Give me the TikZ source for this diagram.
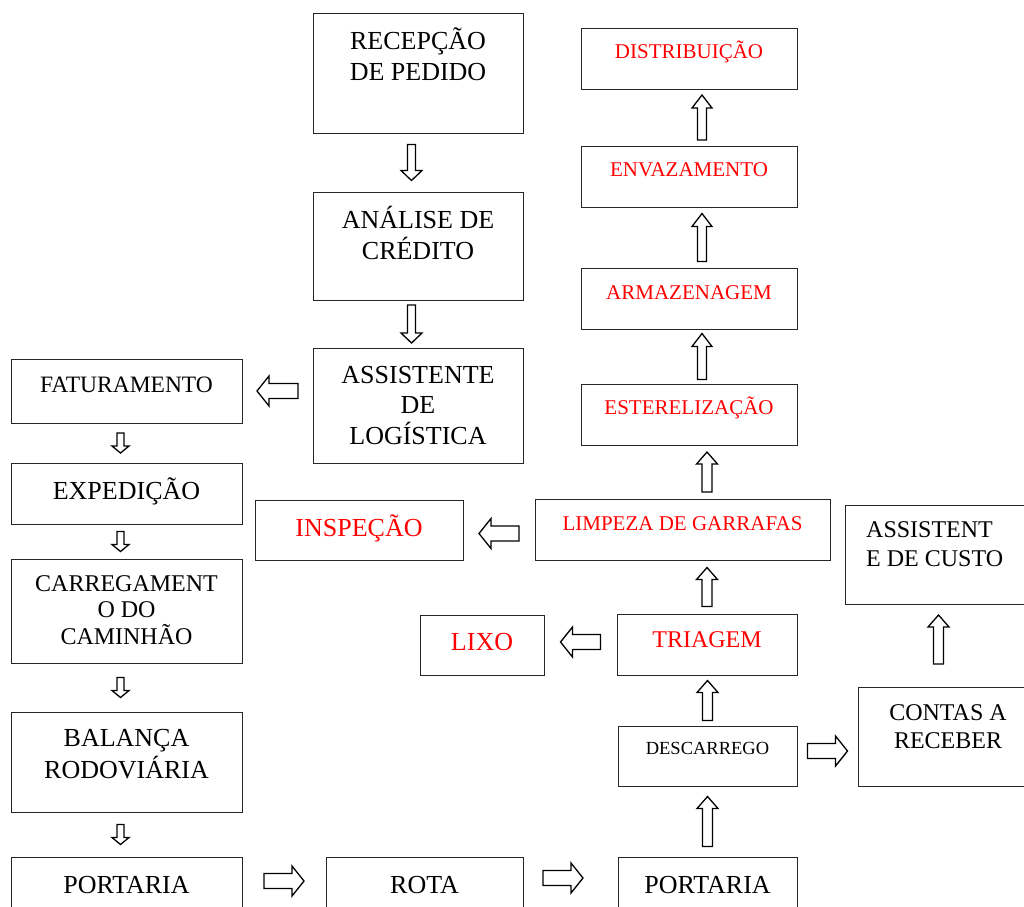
\documentclass[tikz,border=0pt]{standalone}
\usepackage{fontspec}
\setmainfont{Liberation Serif}
\usetikzlibrary{calc}

\definecolor{flowred}{RGB}{255,0,0}

% hollow block arrows: [style]{from}{to}{length}, centred between the two ends
\newcommand{\vflow}[4][]{%
    \draw[flow_arr, #1] let \p1=(#2), \p2=(#3),
        \p3=($(\p1)!0.5!(\p2)$),
        \n1={(\y2-\y1)/abs(\y2-\y1)},
        \n2={#4/2}, \n3={#4/2-\headl}
    in (\x1-\shaftw, \y3-\n1*\n2)
    -- (\x1-\shaftw, \y3+\n1*\n3)
    -- (\x1-\headw, \y3+\n1*\n3)
    -- (\x1, \y3+\n1*\n2)
    -- (\x1+\headw, \y3+\n1*\n3)
    -- (\x1+\shaftw, \y3+\n1*\n3)
    -- (\x1+\shaftw, \y3-\n1*\n2)
    -- cycle;}
\newcommand{\hflow}[4][]{%
    \draw[flow_arr, shaftw=7.5pt, headw=15pt, headl=12pt, #1] let \p1=(#2), \p2=(#3),
        \p3=($(\p1)!0.5!(\p2)$),
        \n1={(\x2-\x1)/abs(\x2-\x1)},
        \n2={#4/2}, \n3={#4/2-\headl}
    in (\x3-\n1*\n2, \y1-\shaftw)
    -- (\x3+\n1*\n3, \y1-\shaftw)
    -- (\x3+\n1*\n3, \y1-\headw)
    -- (\x3+\n1*\n2, \y1)
    -- (\x3+\n1*\n3, \y1+\headw)
    -- (\x3+\n1*\n3, \y1+\shaftw)
    -- (\x3-\n1*\n2, \y1+\shaftw)
    -- cycle;}

\begin{document}
\begin{tikzpicture}[
    x=1pt, y=-1pt,
    box/.style={
        draw=black!85,
        line width=1pt,
        inner sep=0pt,
        outer sep=0pt
    },
    boxsize/.style 2 args={minimum width=#1, minimum height=#2},
    txt/.style={
        font=\fontsize{26}{31}\selectfont,
        align=center,
        inner sep=0pt
    },
    red_txt/.style={text=flowred},
    shaftw/.store in=\shaftw, headw/.store in=\headw, headl/.store in=\headl,
    shaftw=5pt, headw=10.5pt, headl=12pt,
    flow_arr/.style={draw=black, line width=1.3pt, line join=miter},
    small_arr/.style={shaftw=3.5pt, headw=8.5pt, headl=7pt},
    mid_arr/.style={shaftw=4pt, headw=10.5pt, headl=10pt},
    top_arr/.style={shaftw=4.5pt, headw=10pt, headl=13pt}
]

    \useasboundingbox (0,0) rectangle (1024,906);
    \clip (0,0) rectangle (1024,906);

    % Order column
    \node[box, boxsize={210}{120}] (rec) at (418,73) {};
    \node[txt] (rec-t) at (418,54) {RECEPÇÃO\\DE PEDIDO};
    \node[box, boxsize={210}{108}] (ana) at (418,246) {};
    \node[txt] (ana-t) at (418,233) {ANÁLISE DE\\CRÉDITO};
    \node[box, boxsize={210}{115}] (ass) at (418,405.5) {};
    \node[txt, font=\fontsize{26}{30.5}\selectfont] (ass-t) at (418,405.5) {ASSISTENTE\\DE\\LOGÍSTICA};

    % Shipping column
    \node[box, boxsize={231}{64}] (fat) at (126.5,391) {};
    \node[txt, font=\fontsize{23.5}{28}\selectfont] (fat-t) at (126.5,385) {FATURAMENTO};
    \node[box, boxsize={231}{61}] (exp) at (126.5,493.5) {};
    \node[txt] (exp-t) at (126.5,491) {EXPEDIÇÃO};
    \node[box, boxsize={231}{104}] (car) at (126.5,611) {};
    \node[txt, font=\fontsize{24}{26.5}\selectfont] (car-t) at (126.5,610) {CARREGAMENT\\O DO\\CAMINHÃO};
    \node[box, boxsize={231}{100}] (bal) at (126.5,762) {};
    \node[txt, font=\fontsize{26}{32}\selectfont] (bal-t) at (126.5,754) {BALANÇA\\RODOVIÁRIA};
    \node[box, boxsize={231}{103}] (port1) at (126.5,908.5) {};
    \node[txt] (port1-t) at (126.5,884.5) {PORTARIA};
    \node[box, boxsize={197}{103}] (rota) at (424.5,908.5) {};
    \node[txt] (rota-t) at (424.5,884.5) {ROTA};
    \node[box, boxsize={179}{103}] (port2) at (707.5,908.5) {};
    \node[txt] (port2-t) at (707.5,884.5) {PORTARIA};

    % Return column
    \node[box, boxsize={179}{60}] (desc) at (707.5,756) {};
    \node[txt, font=\fontsize{18.5}{22}\selectfont] (desc-t) at (707.5,748) {DESCARREGO};
    \node[box, boxsize={180}{61}] (tri) at (707,644.5) {};
    \node[txt, red_txt, font=\fontsize{24}{28}\selectfont] (tri-t) at (707,640) {TRIAGEM};
    \node[box, boxsize={124}{60}] (lixo) at (482,645) {};
    \node[txt, red_txt] (lixo-t) at (482,642) {LIXO};
    \node[box, boxsize={295}{61}] (limp) at (682.5,529.5) {};
    \node[txt, red_txt, font=\fontsize{21}{25}\selectfont] (limp-t) at (682.5,524) {LIMPEZA DE GARRAFAS};
    \node[box, boxsize={208}{60}] (insp) at (359,530) {};
    \node[txt, red_txt] (insp-t) at (359,528) {INSPEÇÃO};
    \node[box, boxsize={216}{61}] (est) at (689,414.5) {};
    \node[txt, red_txt, font=\fontsize{21}{25}\selectfont] (est-t) at (689,408) {ESTERELIZAÇÃO};
    \node[box, boxsize={216}{61}] (arm) at (689,298.5) {};
    \node[txt, red_txt, font=\fontsize{21}{25}\selectfont] (arm-t) at (689,293) {ARMAZENAGEM};
    \node[box, boxsize={216}{61}] (env) at (689,176.5) {};
    \node[txt, red_txt, font=\fontsize{21}{25}\selectfont] (env-t) at (689,170) {ENVAZAMENTO};
    \node[box, boxsize={216}{61}] (dist) at (689,58.5) {};
    \node[txt, red_txt, font=\fontsize{21}{25}\selectfont] (dist-t) at (689,52) {DISTRIBUIÇÃO};

    % Accounts
    \node[box, boxsize={255}{99}] (cont) at (985.5,736.5) {};
    \node[txt, font=\fontsize{24}{28}\selectfont] (cont-t) at (948,727) {CONTAS A\\RECEBER};
    \node[box, boxsize={255}{99}] (asc) at (972.5,554.5) {};
    \node[txt, font=\fontsize{24}{29}\selectfont, align=left, anchor=west] (asc-t) at (866,544.5) {ASSISTENT\\E DE CUSTO};

    % Arrows
    \vflow[mid_arr]{[xshift=-6.5]rec.south}{[xshift=-6.5]ana.north}{36}
    \vflow[mid_arr]{[xshift=-6.5]ana.south}{[xshift=-6.5]ass.north}{38}
    \hflow{ass.west |- fat.east}{fat.east}{41}

    \vflow[small_arr]{[xshift=-6]fat.south}{[xshift=-6]exp.north}{20}
    \vflow[small_arr]{[xshift=-6]exp.south}{[xshift=-6]car.north}{20}
    \vflow[small_arr]{[xshift=-6]car.south}{[xshift=-6]bal.north}{20}
    \vflow[small_arr]{[xshift=-6]bal.south}{[xshift=-6]port1.north}{20}

    \hflow{[yshift=27.5]port1.east}{rota.west}{40}
    \hflow{[xshift=-7.5,yshift=30.5]rota.east}{[xshift=-7.5]port2.west}{40}

    \vflow{port2.north}{desc.south}{50}
    \vflow{desc.north}{tri.south}{40}
    \vflow{tri.north}{limp.south}{39}
    \vflow{limp.north -| tri.north}{est.south}{40}
    \vflow[top_arr]{[xshift=13]est.north}{[xshift=13]arm.south}{46}
    \vflow[top_arr]{[xshift=13]arm.north}{[xshift=13]env.south}{48}
    \vflow[top_arr]{[xshift=13]env.north}{[xshift=13]dist.south}{45}

    \hflow{[yshift=-4]limp.west}{insp.east}{40}
    \hflow{[yshift=2.5]tri.west}{lixo.east}{40}
    \hflow{[yshift=5]desc.east}{cont.west}{40}
    \vflow{[xshift=-47]cont.north}{[yshift=12]asc.south}{49}

\end{tikzpicture}
\end{document}
